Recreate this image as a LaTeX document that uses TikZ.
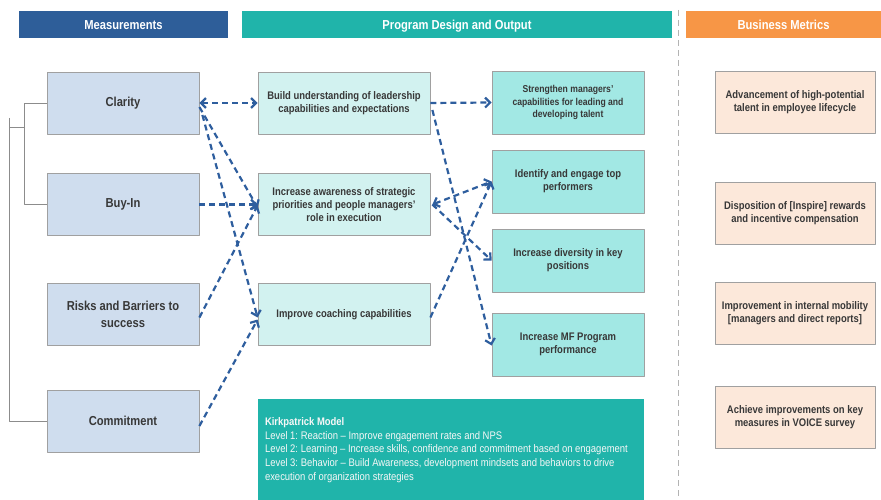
\documentclass[tikz,border=0pt]{standalone}
\usepackage{fontspec}
\setmainfont{Liberation Sans}[FakeStretch=0.86]
\usetikzlibrary{arrows.meta}

% Farben
\definecolor{headblue}{HTML}{2E5E99}
\definecolor{headteal}{HTML}{20B4AA}
\definecolor{headorange}{HTML}{F79646}
\definecolor{measfill}{HTML}{CFDDEE}
\definecolor{progfill}{HTML}{D2F2F0}
\definecolor{outfill}{HTML}{A2E8E4}
\definecolor{metricfill}{HTML}{FCE8DA}
\definecolor{boxgray}{HTML}{A0A0A0}
\definecolor{txtgray}{HTML}{383838}
\definecolor{flowblue}{HTML}{2E5E9E}
\definecolor{treegray}{HTML}{8C8C8C}

\begin{document}
\frenchspacing
\begin{tikzpicture}[x=1pt, y=-1pt, line join=round, >={Straight Barb[length=5pt,width=10pt]},
		box/.style={draw=boxgray, line width=0.8pt, align=center, text=txtgray, inner sep=3pt, font=\bfseries\fontsize{11}{13}\selectfont},
		meas/.style={box, fill=measfill, minimum width=152pt, minimum height=62pt, font=\bfseries\fontsize{13}{16.5}\selectfont},
		prog/.style={box, fill=progfill, minimum width=172pt, minimum height=62pt},
		outp/.style={box, fill=outfill, minimum width=152pt, minimum height=63pt},
		metric/.style={box, fill=metricfill, minimum width=160pt, minimum height=62pt},
		head/.style={minimum height=27pt, inner sep=0pt, text height=9.5pt, text depth=0pt, text=white, font=\bfseries\fontsize{13}{15}\selectfont},
		link/.style={->, flowblue, line width=2.2pt, dash pattern=on 6pt off 4pt},
		tree/.style={treegray, line width=0.9pt}]
	\useasboundingbox (0,0) rectangle (881,500);

	% Kopfzeilen
	\node[head, fill=headblue, minimum width=209pt] (hmeas) at (123.5,24.5) {Measurements};
	\node[head, fill=headteal, minimum width=430pt] (hprog) at (457,24.5) {Program Design and Output};
	\node[head, fill=headorange, minimum width=195pt] (hbiz) at (783.5,24.5) {Business Metrics};

	% Trennlinie
	\draw[boxgray!80, line width=1pt, dash pattern=on 6pt off 4pt] (678,10) -- (678,500);

	% Messgroessen
	\node[meas] (clarity) at (123,103) {Clarity};
	\node[meas] (buyin) at (123,204.5) {Buy-In};
	\node[meas] (risks) at (123,314.5) {Risks and Barriers to\\success};
	\node[meas] (commit) at (123,421) {Commitment};

	% Programm
	\node[prog] (build) at (344,103) {Build understanding of leadership\\capabilities and expectations};
	\node[prog] (aware) at (344,204.5) {Increase awareness of strategic\\priorities and people managers'\\role in execution};
	\node[prog] (coach) at (344,314.5) {Improve coaching capabilities};

	% Ergebnisse
	\node[outp, font=\bfseries\fontsize{10}{12.3}\selectfont] (strength) at (568,102.5) {Strengthen managers'\\capabilities for leading and\\developing talent};
	\node[outp] (identify) at (568,181.5) {Identify and engage top\\performers};
	\node[outp] (divers) at (568,260.5) {Increase diversity in key\\positions};
	\node[outp] (mfprog) at (568,344.5) {Increase MF Program\\performance};

	% Kirkpatrick
	\node[fill=headteal, minimum width=386pt, minimum height=102pt, text width=372pt, inner xsep=7pt, align=flush left,
		text=white!94!gray, font=\fontsize{11}{13.6}\selectfont] (kirk) at (451,450)
		{\textbf{Kirkpatrick Model}\\
		Level 1: Reaction -- Improve engagement rates and NPS\\
		Level 2: Learning -- Increase skills, confidence and commitment based on engagement\\
		Level 3: Behavior -- Build Awareness, development mindsets and behaviors to drive\\
		execution of organization strategies};

	% Business Metrics
	\node[metric] (advance) at (795,102.5) {Advancement of high-potential\\talent in employee lifecycle};
	\node[metric] (dispos) at (795,213) {Disposition of [Inspire] rewards\\and incentive compensation};
	\node[metric] (mobil) at (795,313) {Improvement in internal mobility\\{[managers and direct reports]}};
	\node[metric] (voice) at (795,417.5) {Achieve improvements on key\\measures in VOICE survey};

	% Klammer links
	\coordinate (jn) at (25,127);
	\draw[tree] (clarity.west) -- ++(-22,0) |- (buyin.west);
	\draw[tree] (jn) -- (9,127);
	\draw[tree] (9,118) |- (commit.west);

	% Verbindungen links
	\draw[link, <->] (clarity.east) -- (build.west);
	\draw[link] ([yshift=-4pt]clarity.east) -- ([yshift=-3pt]aware.west);
	\draw[link] ([xshift=3pt,yshift=-12pt]clarity.east) -- ([yshift=-3pt]coach.west);
	\draw[link] (buyin.east) -- (aware.west);
	\draw[link] ([yshift=-3pt]risks.east) -- ([yshift=-1pt]aware.west);
	\draw[link] ([yshift=-5pt]commit.east) -- ([yshift=-5pt]coach.west);

	% Verbindungen rechts
	\draw[link] (build.east) -- (strength.west);
	\draw[link] ([xshift=2pt,yshift=-7pt]build.east) -- ([yshift=-1pt]mfprog.west);
	\draw[link, <->] ([xshift=2pt]aware.east) -- (identify.west);
	\draw[link] ([xshift=2pt]aware.east) -- (divers.west);
	\draw[link] ([yshift=-3pt]coach.east) -- (identify.west);
\end{tikzpicture}
\end{document}
